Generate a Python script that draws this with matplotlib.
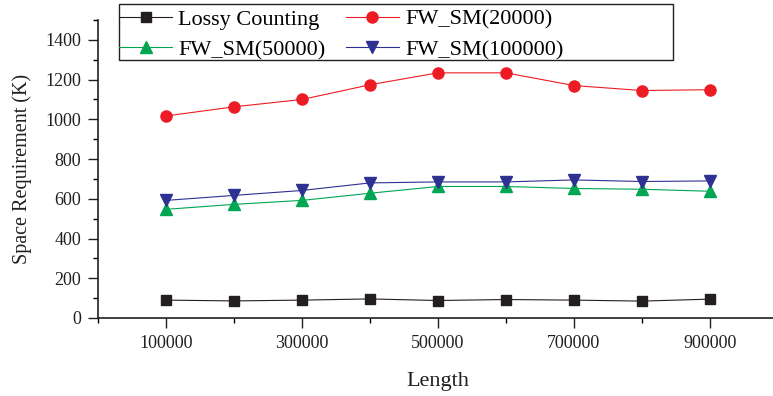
import matplotlib
matplotlib.use("Agg")
import matplotlib.pyplot as plt
from matplotlib.ticker import MultipleLocator
from matplotlib.patches import Rectangle

plt.rcParams['font.family'] = ['Liberation Serif', 'DejaVu Serif']

lengths = [100000, 200000, 300000, 400000, 500000, 600000, 700000, 800000, 900000]
lossy = [90, 86, 90, 96, 88, 93, 90, 85, 95]
fw20000 = [1017, 1063, 1100, 1174, 1234, 1234, 1170, 1145, 1149]
fw50000 = [547, 572, 592, 628, 662, 662, 652, 648, 638]
fw100000 = [592, 617, 642, 680, 685, 685, 695, 687, 690]

W, H = 773, 396
fig = plt.figure(figsize=(W/100, H/100), dpi=100)
ax = fig.add_axes([98/W, 78/H, 680/W, 298/H])

h1, = ax.plot(lengths, lossy, color='#231F20', marker='s', ms=6.5, lw=0.8, label='Lossy Counting')
h2, = ax.plot(lengths, fw20000, color='#ED1C24', marker='o', ms=8, lw=0.8, label='FW_SM(20000)')
h3, = ax.plot(lengths, fw50000, color='#00A651', marker='^', ms=8, lw=0.8, label='FW_SM(50000)')
h4, = ax.plot(lengths, fw100000, color='#2E3192', marker='v', ms=8, lw=0.8, label='FW_SM(100000)')

ax.set_xlim(0, 1000000)
ax.set_ylim(0, 1500)
ax.set_xticks([100000, 300000, 500000, 700000, 900000])
ax.xaxis.set_minor_locator(MultipleLocator(100000))
ax.set_yticks(range(0, 1401, 200))
ax.yaxis.set_minor_locator(MultipleLocator(100))
ax.tick_params(which='major', direction='out', length=7, width=1, labelsize=13, colors='#231F20')
ax.tick_params(axis='x', which='major', pad=5.5)
ax.tick_params(axis='y', which='major', pad=5)
ax.tick_params(which='minor', direction='out', length=3.6, width=1)
ax.spines['top'].set_visible(False)
ax.spines['right'].set_visible(False)
for s in ('left', 'bottom'):
    ax.spines[s].set_linewidth(1.2)
    ax.spines[s].set_color('#231F20')

ax.set_xlabel('Length', fontsize=16, color='#231F20', labelpad=14)
ax.set_ylabel('Space Requirement (K)', fontsize=14.5, color='#231F20', labelpad=10)

leg = fig.legend([h1, h3, h2, h4], [h.get_label() for h in (h1, h3, h2, h4)],
                 ncol=2, loc='upper left', bbox_to_anchor=(119/W, 1 - 9/H), fontsize=16,
                 frameon=False, handlelength=2.4, borderpad=0.0, labelspacing=0.45,
                 columnspacing=0.9, handletextpad=0.27, borderaxespad=0)
fig.add_artist(Rectangle((119/W, 1 - 60/H), 554/W, 56/H, transform=fig.transFigure,
                         fill=False, lw=1.0, ec='#231F20'))

fig.savefig('out.png', dpi=100)
